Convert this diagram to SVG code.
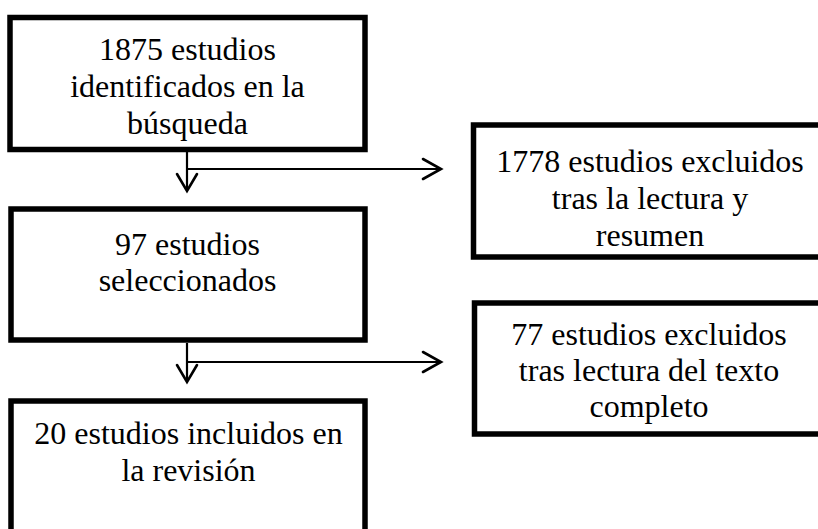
<svg xmlns="http://www.w3.org/2000/svg" width="818" height="529" viewBox="0 0 818 529">
<defs>
<style>
.box{fill:#fff;stroke:#000;stroke-width:5.5}
.t{font-family:'Liberation Serif','DejaVu Serif',serif;font-size:32px;fill:#000;text-anchor:middle}
.ln{fill:none;stroke:#000;stroke-width:2.2}
.ah{fill:none;stroke:#000;stroke-width:2.6;stroke-linecap:round;stroke-linejoin:miter}
</style>
</defs>
<rect width="818" height="529" fill="#fff"/>
<g id="connectors">
<path class="ln" d="M187 152 V190 M187 169 H440"/>
<path class="ah" d="M177 174 L187 191 L197 174"/>
<path class="ah" d="M423 159 L441 169 L423 179"/>
<path class="ln" d="M187 343 V380 M187 362 H440"/>
<path class="ah" d="M177 365 L187 382 L197 365"/>
<path class="ah" d="M423 352 L441 362 L423 372"/>
</g>
<g id="n1">
<rect class="box" x="10" y="17.5" width="355" height="132"/>
<text class="t" x="187.5" y="60" font-family="Liberation Serif, serif">1875 estudios</text>
<text class="t" x="187.5" y="97">identificados en la</text>
<text class="t" x="187.5" y="134">búsqueda</text>
</g>
<g id="n2">
<rect class="box" x="11" y="209" width="354" height="131"/>
<text class="t" x="187.5" y="255">97 estudios</text>
<text class="t" x="187.5" y="291">seleccionados</text>
</g>
<g id="n3">
<rect class="box" x="473.5" y="125" width="360" height="132"/>
<text class="t" x="650" y="172">1778 estudios excluidos</text>
<text class="t" x="650" y="209">tras la lectura y</text>
<text class="t" x="650" y="246">resumen</text>
</g>
<g id="n4">
<rect class="box" x="11" y="401" width="354" height="140"/>
<text class="t" x="188.5" y="444">20 estudios incluidos en</text>
<text class="t" x="188.5" y="481">la revisión</text>
</g>
<g id="n5">
<rect class="box" x="474.5" y="303" width="360" height="131"/>
<text class="t" x="649" y="345">77 estudios excluidos</text>
<text class="t" x="649" y="381">tras lectura del texto</text>
<text class="t" x="649" y="417">completo</text>
</g>
</svg>
